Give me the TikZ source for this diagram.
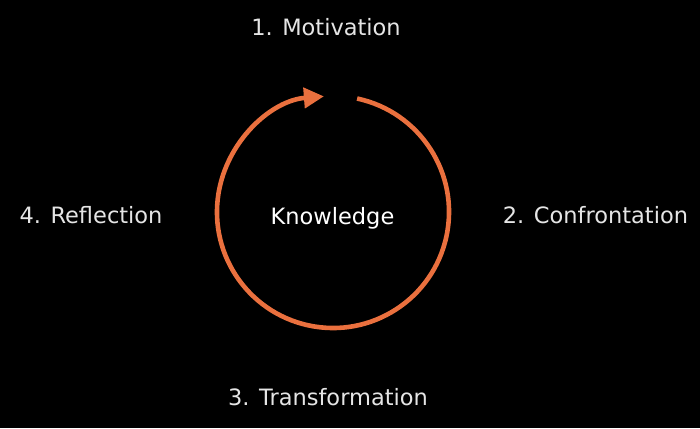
\documentclass[tikz,border=0pt]{standalone}
\usepackage{fontspec}
\setmainfont{DejaVu Sans}
\usetikzlibrary{arrows.meta}
\definecolor{cycleorange}{RGB}{234,112,62}

\begin{document}
\begin{tikzpicture}[x=1pt, y=-1pt, > = {Triangle[length=20pt, width=20pt]},
		stage/.style = {anchor=base, inner sep=0pt, text=white!90!black, font=\fontsize{22.5}{27}\selectfont}]
			\fill [black] (0,0) rectangle (700,428);
			\useasboundingbox (0,0) rectangle (700,428);
			
			%% Ciclo
			\coordinate (hub) at (333,212);
			\draw [->, cycleorange, line width=4.6pt] (hub) ++(-78:116) arc [start angle=-78, end angle=265.5, radius=116];
			
			%% Textos
			\node [stage, text=white] (knowledge) at (332.5,224) {Knowledge};
			\node [stage] (motivation) at (326,36) {1. Motivation};
			\node [stage] (confrontation) at (595.5,223) {2. Confrontation};
			\node [stage] (transformation) at (328,405) {3. Transformation};
			\node [stage] (reflection) at (91,223) {4. Reflection};
		\end{tikzpicture}
\end{document}
